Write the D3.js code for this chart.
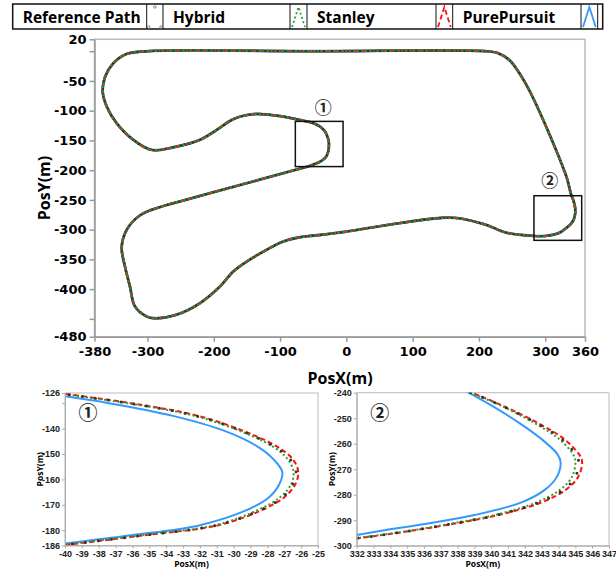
<!DOCTYPE html>
<html lang="en">
<head>
  <meta charset="UTF-8" />
  <title>Path Tracking Comparison</title>
  <style>
    body {
      margin: 0;
      background: #fff;
    }
    svg { display: block; }
    .main-axis text {
      font-family: 'DejaVu Sans', sans-serif;
      font-weight: bold;
      font-size: 13px;
      fill: #000;
    }
    .main-axis line, .main-axis path {
      stroke: #999;
      stroke-width: 1.5px;
    }
    .inset-axis text {
      font-family: 'Liberation Sans Narrow', 'Arial Narrow', sans-serif;
      font-weight: bold;
      font-size: 9px;
      fill: #222;
    }
    .inset-axis line, .inset-axis path {
      stroke: #aaa;
      stroke-width: 1px;
    }
    .title {
      font-family: 'Open Sans', sans-serif;
      font-weight: bold;
      fill: #000;
    }
    .legend text {
      font-family: 'Open Sans', sans-serif;
      font-weight: bold;
      font-size: 15.5px;
      fill: #000;
    }
    .circled {
      font-family: 'Noto Sans CJK SC', sans-serif;
      font-weight: bold;
      fill: #222;
    }
  </style>
</head>
<body>
  <svg width="616" height="572"></svg>

  <script src="https://d3js.org/d3.v7.min.js"></script>
  <script>
    // --- series names (legend order)
    const seriesNames = ["Reference Path", "Hybrid", "Stanley", "PurePursuit"];

    // --- whole track (closed loop, metres)
    const trackX = [-301, -50, 211, 228, 246, 261, 281, 332, 338.8, 342.8, 345.2, 345.3, 345.2, 342.8, 337.9, 332,
      322, 301.5, 281, 241, 211, 170.9, 145.7, 80.4, 0, -40, -70.3, -95.4, -120.5, -150.6, -170.8, -190.9,
      -221, -256, -288.8, -301.3, -319, -326.5, -334, -339, -331.5, -311.4, -281, -246, -170.8, -70,
      -52, -40, -35, -31, -28.5, -27.2, -26.5, -26.3, -26.6, -27.6, -29.45, -32, -36, -40, -50, -70.3,
      -100.4, -135.5, -153, -172, -195.8, -221, -261, -293.8, -321.5, -346.6, -361.6, -367.6, -364, -351.6, -331.5];
    const trackY = [0, 0, 0, -3, -15, -37, -77, -211, -240, -252, -263.8, -268, -273, -283.5, -291.3, -297.1,
      -305, -310.5, -310.5, -305, -292, -281, -280, -289, -303.4, -309, -312.8, -320, -334, -353.8, -370.6, -395.8,
      -423.7, -443, -449, -446, -429, -395.8, -362, -330, -300.5, -276, -262, -251, -228, -197.5,
      -191.5, -186, -182.3, -178.2, -172.4, -167.2, -162.6, -156.8, -152.3, -147.1, -141.3, -135.4, -130.2, -126.5, -121, -115.6,
      -109, -105.5, -108, -115, -132.4, -149, -161.5, -166, -149, -121, -93, -68, -43, -20.3, -4.7];

    // --- zoom 1 (corner near x=-27)
    const zoom1Y       = [-126, -130, -135, -141, -147, -152, -157, -162, -167, -172, -178, -182, -186];
    const zoom1Ref     = [-40.5, -36.2, -32.2, -29.5, -27.6, -26.65, -26.3, -26.5, -27.1, -28.4, -31.0, -35.4, -40.3];
    const zoom1Hybrid  = [-40.6, -36.3, -32.3, -29.6, -27.7, -26.8, -26.45, -26.6, -27.25, -28.55, -31.1, -35.5, -40.5];
    const zoom1Stanley = [-40.4, -36.1, -32.1, -29.4, -27.45, -26.5, -26.17, -26.35, -27.0, -28.3, -30.9, -35.3, -40.2];
    const zoom1Pure    = [-41.4, -37.4, -33.6, -30.5, -28.6, -27.65, -27.12, -27.3, -27.9, -29.2, -32.0, -36.1, -41.0];

    // --- zoom 2 (corner near x=345)
    const zoom2Y       = [-238, -240, -245, -252, -258, -264, -267, -273, -278, -283, -288, -291, -295, -298];
    const zoom2Ref     = [338.05, 338.8, 340.6, 342.7, 344.15, 345.0, 345.2, 345.0, 344.3, 342.85, 340.3, 338.0, 334.35, 330.85];
    const zoom2Hybrid  = [338.0, 338.75, 340.55, 342.6, 344.0, 344.85, 345.0, 344.8, 344.1, 342.7, 340.2, 337.9, 334.3, 330.8];
    const zoom2Stanley = [338.1, 338.85, 340.65, 342.8, 344.3, 345.2, 345.4, 345.17, 344.45, 343.0, 340.4, 338.1, 334.4, 330.9];
    const zoom2Pure    = [338.0, 338.64, 340.0, 341.7, 342.95, 343.92, 344.12, 343.9, 343.2, 341.8, 339.0, 336.5, 332.7, 330.2];

    // --- ticks
    const mainXTicks = [-380, -300, -200, -100, 0, 100, 200, 300, 360];
    const mainYTicks = [20, 0, -50, -100, -150, -200, -250, -300, -350, -400, -450, -480];
    const mainYHidden = [0, -450];
    const zoom1XTicks = d3.range(-40, -24, 1);
    const zoom1YTicks = [-126, -130, -140, -150, -160, -170, -180, -186];
    const zoom1YHidden = [-130];
    const zoom2XTicks = d3.range(332, 348, 1);
    const zoom2YTicks = [-240, -250, -260, -270, -280, -290, -300];

    // highlighted boxes on the main plot: [x0, x1, y0, y1]
    const box1 = [-77, -5, -118, -194];
    const box2 = [283, 355, -243, -318];

    // --- styles
    const styles = {
      "Reference Path": { color: "#333", width: 3, dash: "0 13", cap: "round" },
      "Hybrid":         { color: "#2f9e2f", width: 2, dash: "2 2.5", cap: "butt" },
      "Stanley":        { color: "#ff1010", width: 2, dash: "5 3", cap: "butt" },
      "PurePursuit":    { color: "#3399ff", width: 2, dash: null, cap: "butt" }
    };
    const drawOrder = ["PurePursuit", "Stanley", "Hybrid", "Reference Path"];

    const svg = d3.select("svg");

    // ============ legend ============
    const legend = svg.append("g").attr("class", "legend");
    const cells = [[12.7, 146.7, 163], [163, 290, 307], [307, 436, 452.7], [452.7, 581, 597.7]];
    legend.append("rect").attr("x", 12.7).attr("y", 4).attr("width", 590).attr("height", 25)
      .attr("fill", "#fff").attr("stroke", "#111").attr("stroke-width", 1.5);
    seriesNames.forEach((name, i) => {
      const [x0, xs, xe] = cells[i];
      legend.append("text").attr("x", x0 + 10).attr("y", 23).text(name);
      legend.append("line").attr("x1", xs).attr("x2", xs).attr("y1", 4).attr("y2", 29).attr("stroke", "#111");
      legend.append("line").attr("x1", xe).attr("x2", xe).attr("y1", 4).attr("y2", 29).attr("stroke", "#111");
      const pts = [[xs + 2, 27], [(xs + xe) / 2, 7], [xe - 2, 27]];
      const st = styles[name];
      if (name === "Reference Path") {
        legend.selectAll(null).data(pts).join("circle")
          .attr("cx", d => d[0]).attr("cy", d => d[1]).attr("r", 1.3)
          .attr("fill", "none").attr("stroke", "#777").attr("stroke-width", 0.8);
      } else {
        legend.append("path").attr("d", d3.line()(pts))
          .attr("fill", "none").attr("stroke", st.color).attr("stroke-width", 1.8)
          .attr("stroke-dasharray", st.dash);
      }
    });

    // ============ main plot ============
    const mx = d3.scaleLinear().domain([-380, 360]).range([94.5, 585]);
    const my = d3.scaleLinear().domain([20, -480]).range([39.3, 336.7]);
    const main = svg.append("g");

    main.append("rect").attr("x", 94.5).attr("y", 39.3).attr("width", 585 - 94.5).attr("height", 336.7 - 39.3)
      .attr("fill", "none").attr("stroke", "#bbb").attr("stroke-width", 1.5);

    const track = trackX.map((x, i) => [x, trackY[i]]);
    const mainLine = d3.line().x(d => mx(d[0])).y(d => my(d[1])).curve(d3.curveCatmullRomClosed.alpha(0.5));
    const mainStyles = {
      "PurePursuit":    { color: "#3399ff", width: 2.8, dash: null },
      "Reference Path": { color: "#263026", width: 2.4, dash: null },
      "Stanley":        { color: "#ff1a1a", width: 2.4, dash: "3 4" },
      "Hybrid":         { color: "#2b8a2b", width: 2.4, dash: "2 2" }
    };
    ["PurePursuit", "Reference Path", "Stanley", "Hybrid"].forEach(name => {
      const st = mainStyles[name];
      main.append("path").datum(track).attr("d", mainLine)
        .attr("fill", "none").attr("stroke", st.color).attr("stroke-width", st.width)
        .attr("stroke-dasharray", st.dash);
    });

    [box1, box2].forEach(b => {
      main.append("rect").attr("x", mx(b[0])).attr("y", my(b[2]))
        .attr("width", mx(b[1]) - mx(b[0])).attr("height", my(b[3]) - my(b[2]))
        .attr("fill", "none").attr("stroke", "#111").attr("stroke-width", 1.5);
    });
    main.append("text").attr("class", "circled").attr("x", mx(-35)).attr("y", my(-106))
      .attr("text-anchor", "middle").attr("font-size", 17).text("①");
    main.append("text").attr("class", "circled").attr("x", mx(307)).attr("y", my(-228))
      .attr("text-anchor", "middle").attr("font-size", 17).text("②");

    main.append("g").attr("class", "main-axis").attr("transform", "translate(0,336.7)")
      .call(d3.axisBottom(mx).tickValues(mainXTicks).tickSize(5).tickSizeOuter(0).tickPadding(5)
        .tickFormat(d => String(d)));
    main.append("g").attr("class", "main-axis").attr("transform", "translate(94.5,0)")
      .call(d3.axisLeft(my).tickValues(mainYTicks).tickSize(5).tickSizeOuter(0).tickPadding(3)
        .tickFormat(d => mainYHidden.includes(d) ? "" : String(d)));

    main.append("text").attr("class", "title").attr("font-size", 16)
      .attr("text-anchor", "middle").attr("x", 340).attr("y", 384).text("PosX(m)");
    main.append("text").attr("class", "title").attr("font-size", 16)
      .attr("text-anchor", "middle").attr("transform", "translate(50,188) rotate(-90)").text("PosY(m)");

    // ============ insets ============
    function drawInset(cfg) {
      const x = d3.scaleLinear().domain(cfg.xDomain).range([cfg.left, cfg.right]);
      const y = d3.scaleLinear().domain(cfg.yDomain).range([cfg.top, cfg.bottom]);
      const g = svg.append("g");
      const clipId = "clip" + cfg.id;
      g.append("clipPath").attr("id", clipId).append("rect")
        .attr("x", cfg.left).attr("y", cfg.top)
        .attr("width", cfg.right - cfg.left).attr("height", cfg.bottom - cfg.top);

      g.append("rect").attr("x", cfg.left).attr("y", cfg.top)
        .attr("width", cfg.right - cfg.left).attr("height", cfg.bottom - cfg.top)
        .attr("fill", "none").attr("stroke", "#bbb").attr("stroke-width", 1);

      const line = d3.line().x(d => x(d[0])).y(d => y(d[1])).curve(d3.curveCatmullRom.alpha(0.5));
      const lines = g.append("g").attr("clip-path", `url(#${clipId})`);
      drawOrder.forEach(name => {
        const st = styles[name];
        const pts = cfg.series[name].map((v, i) => [v, cfg.ys[i]]);
        lines.append("path").datum(pts).attr("d", line)
          .attr("fill", "none").attr("stroke", st.color).attr("stroke-width", st.width)
          .attr("stroke-dasharray", st.dash).attr("stroke-linecap", st.cap);
      });

      g.append("g").attr("class", "inset-axis").attr("transform", `translate(0,${cfg.bottom})`)
        .call(d3.axisBottom(x).tickValues(cfg.xTicks).tickSize(3).tickSizeOuter(0).tickPadding(2)
          .tickFormat(d => String(d)));
      g.append("g").attr("class", "inset-axis").attr("transform", `translate(${cfg.left},0)`)
        .call(d3.axisLeft(y).tickValues(cfg.yTicks).tickSize(3).tickSizeOuter(0).tickPadding(2)
          .tickFormat(d => (cfg.yHidden || []).includes(d) ? "" : String(d)));

      g.append("text").attr("class", "title").attr("font-size", 8.5).attr("text-anchor", "middle")
        .attr("x", (cfg.left + cfg.right) / 2).attr("y", 567).text("PosX(m)");
      g.append("text").attr("class", "title").attr("font-size", 8.5).attr("text-anchor", "middle")
        .attr("transform", `translate(${cfg.left - 22},${(cfg.top + cfg.bottom) / 2}) rotate(-90)`).text("PosY(m)");
      g.append("text").attr("class", "circled").attr("font-size", 19).attr("text-anchor", "middle")
        .attr("x", cfg.left + 23).attr("y", cfg.top + 27).text(cfg.mark);
    }

    drawInset({
      id: 1, mark: "①", left: 65, right: 318, top: 393, bottom: 545.5,
      xDomain: [-40, -25], yDomain: [-126, -186], xTicks: zoom1XTicks, yTicks: zoom1YTicks, yHidden: zoom1YHidden,
      ys: zoom1Y,
      series: { "Reference Path": zoom1Ref, "Hybrid": zoom1Hybrid, "Stanley": zoom1Stanley, "PurePursuit": zoom1Pure }
    });
    drawInset({
      id: 2, mark: "②", left: 356.7, right: 609, top: 392.7, bottom: 545.7,
      xDomain: [332, 347], yDomain: [-240, -300], xTicks: zoom2XTicks, yTicks: zoom2YTicks,
      ys: zoom2Y,
      series: { "Reference Path": zoom2Ref, "Hybrid": zoom2Hybrid, "Stanley": zoom2Stanley, "PurePursuit": zoom2Pure }
    });
  </script>
</body>
</html>
